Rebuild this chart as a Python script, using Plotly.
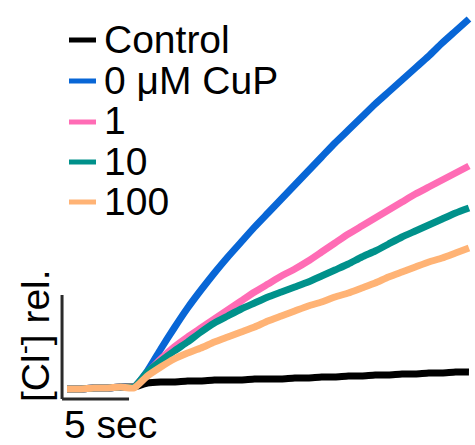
import plotly.graph_objects as go

# time axis (seconds)
time_s = list(range(0, 31))

baseline = [0.01, 0.01, 0.02, 0.02, 0.03]

control = baseline + [0.03, 0.07, 0.08, 0.08, 0.09, 0.09, 0.10, 0.10, 0.10, 0.11, 0.11, 0.11, 0.12,
                      0.12, 0.13, 0.13, 0.14, 0.14, 0.15, 0.15, 0.16, 0.16, 0.17, 0.17, 0.18, 0.18]
cup_0 = baseline + [0.03, 0.19, 0.41, 0.62, 0.82, 1.00, 1.17, 1.33, 1.48, 1.63, 1.77, 1.91, 2.05,
                    2.19, 2.33, 2.47, 2.60, 2.73, 2.86, 2.98, 3.10, 3.22, 3.34, 3.47, 3.59, 3.71]
cup_1 = baseline + [0.03, 0.17, 0.31, 0.43, 0.53, 0.62, 0.71, 0.80, 0.89, 0.98, 1.06, 1.14, 1.21,
                    1.29, 1.38, 1.47, 1.56, 1.64, 1.72, 1.80, 1.88, 1.96, 2.03, 2.10, 2.17, 2.24]
cup_10 = baseline + [0.03, 0.18, 0.29, 0.39, 0.48, 0.58, 0.67, 0.74, 0.81, 0.87, 0.93, 0.98, 1.03,
                     1.08, 1.14, 1.20, 1.26, 1.33, 1.39, 1.46, 1.53, 1.59, 1.65, 1.71, 1.77, 1.82]
cup_100 = baseline + [0.02, 0.14, 0.23, 0.31, 0.37, 0.42, 0.48, 0.53, 0.58, 0.63, 0.69, 0.74, 0.79,
                      0.84, 0.88, 0.93, 0.97, 1.02, 1.07, 1.13, 1.18, 1.23, 1.28, 1.32, 1.37, 1.42]

series_names = ["Control", "0 \u03bcM CuP", "1", "10", "100"]
series_values = [control, cup_0, cup_1, cup_10, cup_100]
series_colors = ["#000000", "#0866d6", "#ff6cb5", "#00918b", "#ffb375"]

# scale bar
scale_time = 5      # seconds
scale_label = "5 sec"
y_label = "[Cl<sup>-</sup>] rel."

W, H = 475, 445
fig = go.Figure()

for name, vals, col in zip(series_names, series_values, series_colors):
    fig.add_trace(go.Scatter(x=time_s, y=vals, name=name, mode="lines",
                             line=dict(color=col, width=7, shape="spline", smoothing=0.5),
                             showlegend=False))

x_origin = -0.37
y_origin = -0.09
fig.add_shape(type="line", x0=x_origin, x1=x_origin + scale_time, y0=y_origin, y1=y_origin,
              line=dict(color="#2a2a2a", width=3))
fig.add_shape(type="line", x0=x_origin, x1=x_origin, y0=y_origin, y1=0.95,
              line=dict(color="#2a2a2a", width=3))

font_family = "Liberation Sans, Arial, sans-serif"
fs = 39

fig.add_annotation(x=110 / W, y=1 - 424 / H, xref="paper", yref="paper",
                   text=scale_label, showarrow=False, xanchor="center", yanchor="middle",
                   font=dict(size=fs, color="black", family=font_family))
fig.add_annotation(x=32 / W, y=1 - 336 / H, xref="paper", yref="paper",
                   text=y_label, showarrow=False, textangle=-90, xanchor="center", yanchor="middle",
                   font=dict(size=fs, color="black", family=font_family))

# manual legend
row_y = [40, 81, 122, 162, 202]
for name, col, py in zip(series_names, series_colors, row_y):
    fig.add_shape(type="line", xref="paper", yref="paper",
                  x0=69 / W, x1=96 / W, y0=1 - py / H, y1=1 - py / H,
                  line=dict(color=col, width=5))
    fig.add_annotation(x=102 / W, y=1 - (py - 1) / H, xref="paper", yref="paper",
                       text=name, showarrow=False, xanchor="left", yanchor="middle",
                       font=dict(size=fs, color="black", family=font_family))

fig.update_layout(
    width=W, height=H,
    margin=dict(l=0, r=0, t=0, b=0),
    paper_bgcolor="white", plot_bgcolor="white",
    xaxis=dict(range=[-5, 30.45], visible=False),
    yaxis=dict(range=[-0.55, 3.9], visible=False),
)

fig.write_html("out.html")
